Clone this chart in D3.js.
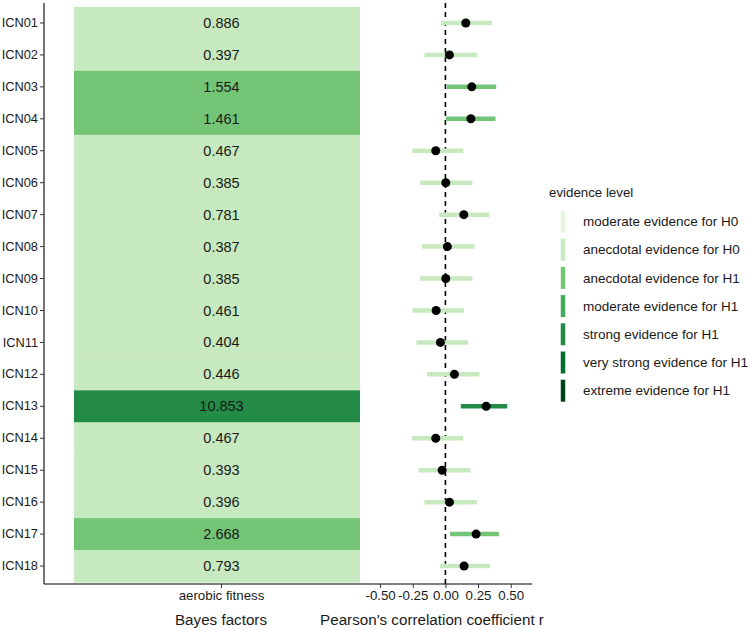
<!DOCTYPE html>
<html>
<head>
<meta charset="utf-8">
<script src="https://cdn.jsdelivr.net/npm/d3@7"></script>
<style>
  html, body { margin: 0; padding: 0; background: #fff; }
  svg { display: block; font-family: "Liberation Sans", Arial, Helvetica, sans-serif; }
</style>
</head>
<body>
<svg id="chart" width="749" height="630"></svg>
<script>
// ---- data ----
const icns = ["ICN01","ICN02","ICN03","ICN04","ICN05","ICN06","ICN07","ICN08","ICN09",
              "ICN10","ICN11","ICN12","ICN13","ICN14","ICN15","ICN16","ICN17","ICN18"];
const measure = ["aerobic fitness"];
const bayesFactors = [0.886,0.397,1.554,1.461,0.467,0.385,0.781,0.387,0.385,
                      0.461,0.404,0.446,10.853,0.467,0.393,0.396,2.668,0.793];
const corrR  = [0.156,0.031,0.202,0.195,-0.074,0.003,0.141,0.015,0.003,
                -0.071,-0.038,0.069,0.312,-0.074,-0.025,0.031,0.235,0.143];
const corrLo = [-0.033,-0.161,0.010,0.005,-0.253,-0.194,-0.048,-0.179,-0.194,
                -0.250,-0.222,-0.140,0.118,-0.255,-0.207,-0.161,0.036,-0.043];
const corrHi = [0.356,0.241,0.389,0.383,0.136,0.207,0.337,0.222,0.207,
                0.143,0.174,0.261,0.473,0.136,0.192,0.241,0.410,0.343];
const evidenceLevels = ["moderate evidence for H0","anecdotal evidence for H0","anecdotal evidence for H1",
                        "moderate evidence for H1","strong evidence for H1","very strong evidence for H1",
                        "extreme evidence for H1"];
const evidenceBreaks = [1/3, 1, 3, 10, 30, 100];
const evidenceColors = ["#e5f5e0","#c7e9c0","#74c476","#41ab5d","#238b45","#006d2c","#00441b"];
const xTicks = [-0.5,-0.25,0,0.25,0.5];

// ---- setup ----
const svg = d3.select("#chart");
const FONT = "'Liberation Sans', Arial, Helvetica, sans-serif";
const level = d3.scaleThreshold().domain(evidenceBreaks).range(evidenceLevels);
const color = d3.scaleOrdinal().domain(evidenceLevels).range(evidenceColors);
const rows = icns.map((id, i) => ({id, bf: bayesFactors[i], r: corrR[i], lo: corrLo[i], hi: corrHi[i], lev: level(bayesFactors[i])}));

const panelTop = 3, panelBottom = 584;
const y = d3.scaleBand().domain(icns).range([7, 582]).padding(0);
const xL = d3.scaleBand().domain(measure).range([74, 369]).padding(0);
const leftX0 = 44, leftX1 = 360;
const xR = d3.scaleLinear().domain([-0.654, 0.663]).range([360, 532]);

const textCol = "#1a1a1a";

// ---- left panel: tiles ----
svg.append("clipPath").attr("id", "clipL").append("rect")
  .attr("x", leftX0).attr("y", panelTop).attr("width", leftX1 - leftX0).attr("height", panelBottom - panelTop);
const gL = svg.append("g").attr("clip-path", "url(#clipL)");
gL.selectAll("rect.tile").data(rows).join("rect").attr("class", "tile")
  .attr("x", xL("aerobic fitness")).attr("width", xL.bandwidth())
  .attr("y", d => y(d.id)).attr("height", y.bandwidth() + 0.5)
  .attr("fill", d => color(d.lev));
gL.selectAll("text.bf").data(rows).join("text").attr("class", "bf")
  .attr("x", xL("aerobic fitness") + xL.bandwidth() / 2)
  .attr("y", d => y(d.id) + y.bandwidth() / 2)
  .attr("dy", "0.35em").attr("text-anchor", "middle")
  .attr("font-size", 14.5).attr("fill", textCol).attr("font-family", FONT)
  .text(d => d3.format(".3f")(d.bf));

// y axis
const yAxis = svg.append("g").attr("transform", `translate(${leftX0},0)`)
  .call(d3.axisLeft(y).tickSize(4).tickPadding(2));
yAxis.attr("font-family", FONT);
yAxis.select(".domain").attr("d", `M0,${panelTop}V${panelBottom}`).attr("stroke", "#000").attr("stroke-width", 1.1);
yAxis.selectAll(".tick line").attr("stroke", "#333");
yAxis.selectAll(".tick text").attr("font-size", 12.8).attr("fill", textCol);

// left x axis
const xAxisL = svg.append("g").attr("transform", `translate(0,${panelBottom})`)
  .call(d3.axisBottom(xL).tickSize(4).tickPadding(3));
xAxisL.attr("font-family", FONT);
xAxisL.select(".domain").attr("d", `M${leftX0},0H${leftX1}`).attr("stroke", "#000").attr("stroke-width", 1.1);
xAxisL.selectAll(".tick line").attr("stroke", "#333");
xAxisL.selectAll(".tick text").attr("font-size", 13.3).attr("fill", textCol);

svg.append("text").attr("x", 221).attr("y", 625).attr("text-anchor", "middle")
  .attr("font-size", 15.2).attr("fill", textCol).attr("font-family", FONT).text("Bayes factors");

// ---- right panel: forest ----
const gR = svg.append("g");
gR.append("line").attr("x1", xR(0)).attr("x2", xR(0)).attr("y1", panelTop).attr("y2", panelBottom)
  .attr("stroke", "#000").attr("stroke-width", 1.6).attr("stroke-dasharray", "5,4");
gR.selectAll("line.ci").data(rows).join("line").attr("class", "ci")
  .attr("x1", d => xR(d.lo)).attr("x2", d => xR(d.hi))
  .attr("y1", d => y(d.id) + y.bandwidth() / 2).attr("y2", d => y(d.id) + y.bandwidth() / 2)
  .attr("stroke", d => color(d.lev)).attr("stroke-width", 4.5);
gR.selectAll("circle.pt").data(rows).join("circle").attr("class", "pt")
  .attr("cx", d => xR(d.r)).attr("cy", d => y(d.id) + y.bandwidth() / 2)
  .attr("r", 4.5).attr("fill", "#000");

const xAxisR = svg.append("g").attr("transform", `translate(0,${panelBottom})`)
  .call(d3.axisBottom(xR).tickValues(xTicks).tickFormat(d => d.toFixed(2)).tickSize(4).tickPadding(3));
xAxisR.attr("font-family", FONT);
xAxisR.select(".domain").attr("d", `M${xR.range()[0]},0H${xR.range()[1]}`).attr("stroke", "#000").attr("stroke-width", 1.1);
xAxisR.selectAll(".tick line").attr("stroke", "#333");
xAxisR.selectAll(".tick text").attr("font-size", 13.3).attr("fill", textCol);

svg.append("text").attr("x", 432).attr("y", 625).attr("text-anchor", "middle")
  .attr("font-size", 15.2).attr("fill", textCol).attr("font-family", FONT).text("Pearson's correlation coefficient r");

// ---- legend ----
const lg = svg.append("g").attr("transform", "translate(549,192)").attr("font-family", FONT);
lg.append("text").attr("x", 0).attr("y", 0).attr("dy", "0.35em")
  .attr("font-size", 13.3).attr("fill", textCol).text("evidence level");
const items = lg.selectAll("g.item").data(evidenceLevels).join("g").attr("class", "item")
  .attr("transform", (d, i) => `translate(0,${29.5 + i * 28.2})`);
items.append("line").attr("x1", 14).attr("x2", 14).attr("y1", -11).attr("y2", 11)
  .attr("stroke", d => color(d)).attr("stroke-width", 4.5);
items.append("text").attr("x", 34).attr("y", 0).attr("dy", "0.35em")
  .attr("font-size", 13.5).attr("fill", textCol).text(d => d);
</script>
</body>
</html>
